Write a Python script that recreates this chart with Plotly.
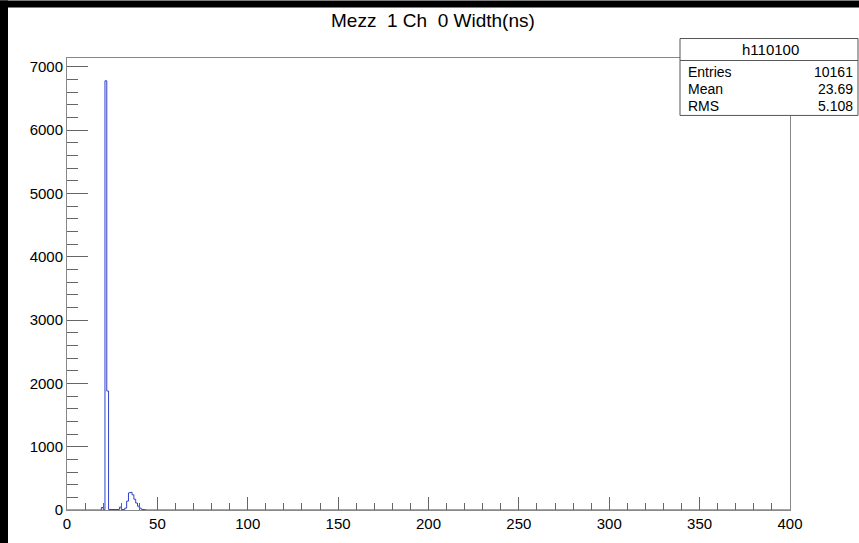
import plotly.graph_objects as go

# histogram h110100: 1 ns bins from 0 to 400, only non-empty bins listed
bin_low = [19, 20, 21, 22, 23, 24, 25, 26, 27, 28, 29, 30, 31, 32, 33, 34,
           35, 36, 37, 38, 39, 40, 41, 42, 43]
counts = [40, 4, 6780, 1880, 8, 8, 8, 8, 8, 8, 45, 10, 6, 30, 140, 270,
          280, 240, 170, 110, 60, 30, 12, 5, 2]

title = "Mezz  1 Ch  0 Width(ns)"
stats_name = "h110100"
stats_rows = [("Entries", "10161"), ("Mean", "23.69"), ("RMS", "5.108")]

x_max = 400
y_max = 7140

# step outline built from bin edges
xs, ys = [0], [0]
prev = 0
for lo, c in zip(bin_low, counts):
    if lo != prev:
        xs += [prev, lo]
        ys += [0, 0]
    xs += [lo, lo + 1]
    ys += [c, c]
    prev = lo + 1
xs += [prev, x_max]
ys += [0, 0]

fig = go.Figure(go.Scatter(x=xs, y=ys, mode="lines",
                           line=dict(color="#3040c8", width=1)))

W, H = 859, 543
L, R, T, B = 67, 790, 57.5, 510


def px(x):
    return (x - L) / (R - L)


def py(y):
    return (B - y) / (B - T)


axis_font = dict(family="Liberation Sans, Arial", size=15, color="black")
box_font = dict(family="Liberation Sans, Arial", size=14, color="black")

fig.update_layout(
    width=W, height=H,
    margin=dict(l=L, r=W - R, t=T, b=H - B),
    paper_bgcolor="white", plot_bgcolor="white",
    showlegend=False,
    font=axis_font,
)

fig.update_xaxes(range=[0, x_max], showgrid=False, zeroline=False,
                 showline=True, linecolor="#888888", linewidth=1, mirror=True,
                 ticks="inside", ticklen=13, tickcolor="#666666",
                 tick0=0, dtick=50, tickfont=axis_font,
                 minor=dict(ticks="inside", ticklen=7, dtick=10,
                            tickcolor="#666666"))
fig.update_yaxes(range=[0, y_max], showgrid=False, zeroline=False,
                 showline=True, linecolor="#888888", linewidth=1, mirror=True,
                 ticks="inside", ticklen=21, tickcolor="#666666",
                 tick0=0, dtick=1000, tickfont=axis_font, ticklabelstandoff=0,
                 minor=dict(ticks="inside", ticklen=11, dtick=200,
                            tickcolor="#666666"))

shapes = [
    # black strips along the top and left edges
    dict(type="rect", xref="paper", yref="paper", x0=px(0), x1=px(W),
         y0=py(7), y1=py(0), fillcolor="black", line_width=0, layer="below"),
    dict(type="rect", xref="paper", yref="paper", x0=px(0), x1=px(8),
         y0=py(H), y1=py(0), fillcolor="black", line_width=0, layer="below"),
    # stats box
    dict(type="rect", xref="paper", yref="paper", x0=px(680), x1=px(858),
         y0=py(115), y1=py(38), fillcolor="white",
         line=dict(color="#555555", width=1)),
    dict(type="line", xref="paper", yref="paper", x0=px(680), x1=px(858),
         y0=py(60), y1=py(60), line=dict(color="#555555", width=1)),
]

annotations = [
    dict(text=title, x=px(433), y=py(20), xref="paper", yref="paper",
         xanchor="center", yanchor="middle", showarrow=False,
         font=dict(family="Liberation Sans, Arial", size=19, color="black")),
    dict(text=stats_name, x=px(770), y=py(49), xref="paper", yref="paper",
         xanchor="center", yanchor="middle", showarrow=False,
         font=dict(family="Liberation Sans, Arial", size=15, color="black")),
]
for i, (name, val) in enumerate(stats_rows):
    yc = 72 + i * 17
    annotations.append(dict(text=name, x=px(686), y=py(yc), xref="paper",
                            yref="paper", xanchor="left", yanchor="middle",
                            showarrow=False, font=box_font))
    annotations.append(dict(text=val, x=px(855), y=py(yc), xref="paper",
                            yref="paper", xanchor="right", yanchor="middle",
                            showarrow=False, font=box_font))

fig.update_layout(shapes=shapes, annotations=annotations)

fig.write_html("out.html", config={"displayModeBar": False},
               post_script="document.body.style.margin='0px';"
                           "document.body.style.overflow='hidden';")
